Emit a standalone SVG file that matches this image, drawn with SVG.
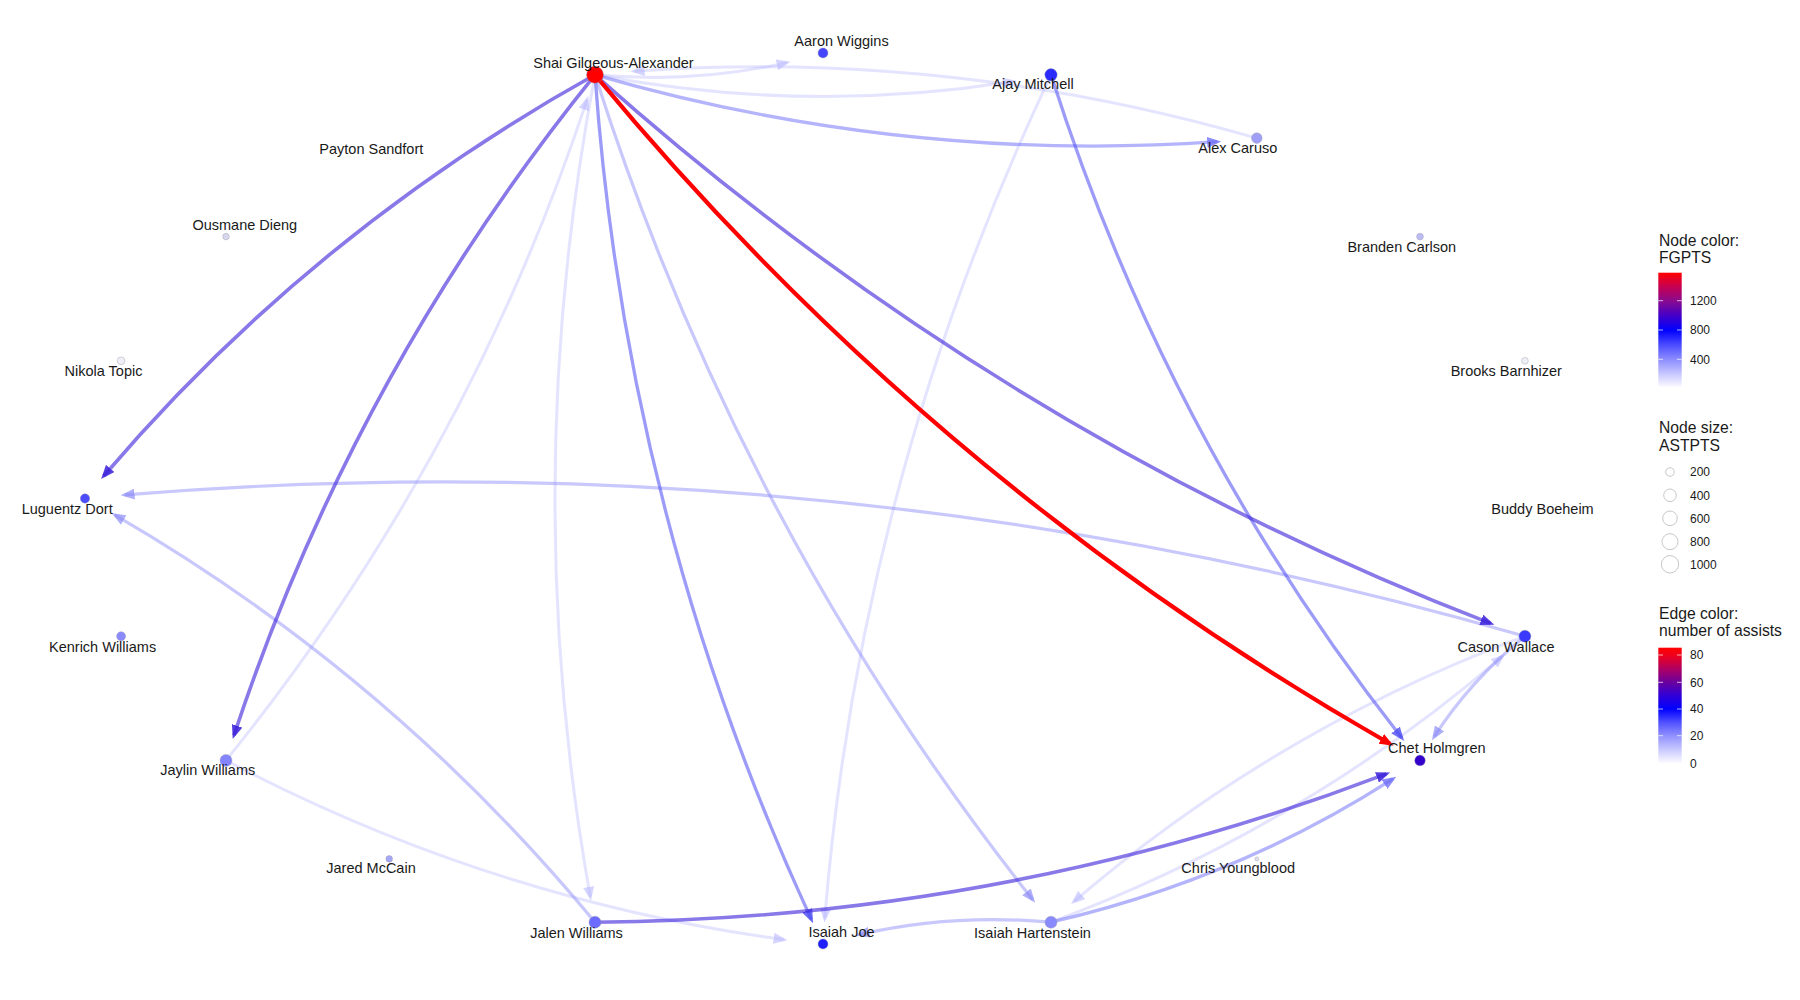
<svg xmlns="http://www.w3.org/2000/svg" width="1800" height="1000" viewBox="0 0 1800 1000">
<style>
  .lbl { font-family: "Liberation Sans", Arial, sans-serif; font-size: 14.5px; fill: #1a1a1a; text-anchor: middle; }
  .ttl { font-family: "Liberation Sans", Arial, sans-serif; font-size: 15.7px; fill: #1a1a1a; }
  .tck { font-family: "Liberation Sans", Arial, sans-serif; font-size: 12px; fill: #1a1a1a; }
  .e { fill: none; stroke-linecap: butt; }
  .eA { stroke: #ff0000; stroke-width: 4.2; marker-end: url(#mA); }
  .eB { stroke: #391ed9; stroke-opacity: 0.6; stroke-width: 3.6; marker-end: url(#mB); }
  .eC { stroke: #4b4bf2; stroke-opacity: 0.55; stroke-width: 3.3; marker-end: url(#mC); }
  .eD { stroke: #6969f9; stroke-opacity: 0.5; stroke-width: 3.3; marker-end: url(#mD); }
  .eE { stroke: #8585f8; stroke-opacity: 0.45; stroke-width: 3.2; marker-end: url(#mE); }
  .eF { stroke: #b2b2ff; stroke-opacity: 0.35; stroke-width: 3; marker-end: url(#mF); }
  .nd { stroke: #9a9aa8; stroke-opacity: 0.45; stroke-width: 0.9; }
  .szl { fill: none; stroke: #c8c8c8; stroke-width: 1; }
  .btk { stroke: #ffffff; stroke-opacity: 0.7; stroke-width: 1; }
</style>
<defs>
  <marker id="mA" viewBox="0 0 14 11" refX="10" refY="5.5" markerWidth="14" markerHeight="11" markerUnits="userSpaceOnUse" orient="auto"><path d="M0,0 L14,5.5 L0,11 z" fill="#ff0000"/></marker>
  <marker id="mB" viewBox="0 0 14 11" refX="10" refY="5.5" markerWidth="14" markerHeight="11" markerUnits="userSpaceOnUse" orient="auto"><path d="M0,0 L14,5.5 L0,11 z" fill="#391ed9" fill-opacity="0.85"/></marker>
  <marker id="mC" viewBox="0 0 14 11" refX="10" refY="5.5" markerWidth="14" markerHeight="11" markerUnits="userSpaceOnUse" orient="auto"><path d="M0,0 L14,5.5 L0,11 z" fill="#4b4bf2" fill-opacity="0.8"/></marker>
  <marker id="mD" viewBox="0 0 14 11" refX="10" refY="5.5" markerWidth="14" markerHeight="11" markerUnits="userSpaceOnUse" orient="auto"><path d="M0,0 L14,5.5 L0,11 z" fill="#6969f9" fill-opacity="0.75"/></marker>
  <marker id="mE" viewBox="0 0 14 11" refX="10" refY="5.5" markerWidth="14" markerHeight="11" markerUnits="userSpaceOnUse" orient="auto"><path d="M0,0 L14,5.5 L0,11 z" fill="#8585f8" fill-opacity="0.65"/></marker>
  <marker id="mF" viewBox="0 0 14 11" refX="10" refY="5.5" markerWidth="14" markerHeight="11" markerUnits="userSpaceOnUse" orient="auto"><path d="M0,0 L14,5.5 L0,11 z" fill="#b2b2ff" fill-opacity="0.55"/></marker>
  <linearGradient id="gNode" x1="0" y1="0" x2="0" y2="1">
    <stop offset="0" stop-color="#ff0000"/>
    <stop offset="0.12" stop-color="#c80050"/>
    <stop offset="0.246" stop-color="#8a0a8e"/>
    <stop offset="0.375" stop-color="#4400c8"/>
    <stop offset="0.503" stop-color="#0000ff"/>
    <stop offset="0.63" stop-color="#4a4aff"/>
    <stop offset="0.76" stop-color="#8c8cff"/>
    <stop offset="0.88" stop-color="#c4c4ff"/>
    <stop offset="1" stop-color="#fafaff"/>
  </linearGradient>
  <linearGradient id="gEdge" x1="0" y1="0" x2="0" y2="1">
    <stop offset="0" stop-color="#ff0000"/>
    <stop offset="0.063" stop-color="#f0001a"/>
    <stop offset="0.18" stop-color="#b00060"/>
    <stop offset="0.299" stop-color="#6a009e"/>
    <stop offset="0.415" stop-color="#3000d8"/>
    <stop offset="0.53" stop-color="#0000ff"/>
    <stop offset="0.645" stop-color="#5050ff"/>
    <stop offset="0.761" stop-color="#9090ff"/>
    <stop offset="0.88" stop-color="#c8c8ff"/>
    <stop offset="1" stop-color="#fcfcff"/>
  </linearGradient>
</defs>
<rect width="1800" height="1000" fill="#ffffff"/>

<g id="edges">
  <path class="e eF" d="M595,74.8 Q517.3,487.7 590.3,896.8"/>
  <path class="e eF" d="M595,74.8 Q805.8,114.5 1012.7,81.5"/>
  <path class="e eF" d="M1256.8,138.1 Q949,49.2 634.6,71.2"/>
  <path class="e eF" d="M595,74.8 Q694.2,83.8 786.6,62.6"/>
  <path class="e eF" d="M226,760.4 Q467.9,461 587,99.9"/>
  <path class="e eF" d="M1051,74.8 Q860,478.2 824.8,918.4"/>
  <path class="e eF" d="M226,760.4 Q491.5,900 783.6,939.6"/>
  <path class="e eF" d="M1524.9,636.2 Q1273.7,730 1074.1,901.5"/>
  <path class="e eF" d="M1051,922.2 Q1302.2,828.4 1501.8,656.9"/>
  <path class="e eE" d="M1524.9,636.2 Q1469.9,681 1434.1,736.8"/>
  <path class="e eE" d="M1524.9,636.2 Q835.1,437 124.6,494.9"/>
  <path class="e eE" d="M595,922.2 Q389.5,674.1 115,515.1"/>
  <path class="e eE" d="M595,74.8 Q739.5,529.4 1032.7,899.6"/>
  <path class="e eE" d="M1051,922.2 Q951.8,913.2 859.3,934.5"/>
  <path class="e eD" d="M595,74.8 Q902.8,163.7 1217.2,141.7"/>
  <path class="e eD" d="M1051,922.2 Q1236.7,879.2 1392.9,778.9"/>
  <path class="e eC" d="M595,74.8 Q626.5,519.3 811.4,919.5"/>
  <path class="e eC" d="M1051,74.8 Q1167.3,440.3 1401.7,737.8"/>
  <path class="e eB" d="M595,74.8 Q995,432 1490.6,623.4"/>
  <path class="e eB" d="M595,74.8 Q311.2,232.6 103.7,476"/>
  <path class="e eB" d="M595,74.8 Q353.1,374.2 234,735.3"/>
  <path class="e eB" d="M595,922.2 Q1006.5,919 1386.3,773.9"/>
  <path class="e eA" d="M595,74.8 Q933.4,483.5 1390,743.8"/>
</g>

<g id="node-aaron-wiggins"><circle class="nd" cx="823" cy="53" r="5" fill="#4545ff"/><text class="lbl" x="841.5" y="46">Aaron Wiggins</text></g>
<g id="node-ajay-mitchell"><circle class="nd" cx="1051" cy="74.8" r="6.2" fill="#2b2bff"/><text class="lbl" x="1033" y="89.3">Ajay Mitchell</text></g>
<g id="node-alex-caruso"><circle class="nd" cx="1256.8" cy="138.1" r="5.3" fill="#9f9ff7"/><text class="lbl" x="1237.8" y="153.3">Alex Caruso</text></g>
<g id="node-branden-carlson"><circle class="nd" cx="1420" cy="236.6" r="3.4" fill="#bcbcf4"/><text class="lbl" x="1401.8" y="251.7">Branden Carlson</text></g>
<g id="node-brooks-barnhizer"><circle class="nd" cx="1524.9" cy="360.8" r="3.4" fill="#efeff7"/><text class="lbl" x="1506.3" y="376">Brooks Barnhizer</text></g>
<g id="node-buddy-boeheim"><text class="lbl" x="1542.5" y="514">Buddy Boeheim</text></g>
<g id="node-cason-wallace"><circle class="nd" cx="1524.9" cy="636.2" r="6" fill="#3a3aff"/><text class="lbl" x="1506" y="651.7">Cason Wallace</text></g>
<g id="node-chet-holmgren"><circle class="nd" cx="1420" cy="760.4" r="5.3" fill="#3300cc"/><text class="lbl" x="1436.8" y="753.3">Chet Holmgren</text></g>
<g id="node-chris-youngblood"><circle class="nd" cx="1256.8" cy="858.9" r="2" fill="#dedeea"/><text class="lbl" x="1238.2" y="873.3">Chris Youngblood</text></g>
<g id="node-isaiah-hartenstein"><circle class="nd" cx="1051" cy="922.2" r="6" fill="#8a8aff"/><text class="lbl" x="1032.5" y="937.7">Isaiah Hartenstein</text></g>
<g id="node-isaiah-joe"><circle class="nd" cx="823" cy="944" r="5" fill="#2020ff"/><text class="lbl" x="841.5" y="937">Isaiah Joe</text></g>
<g id="node-jalen-williams"><circle class="nd" cx="595" cy="922.2" r="6" fill="#6b6bff"/><text class="lbl" x="576.5" y="937.7">Jalen Williams</text></g>
<g id="node-jared-mccain"><circle class="nd" cx="389.2" cy="858.9" r="3.3" fill="#a6a6f8"/><text class="lbl" x="371" y="873.3">Jared McCain</text></g>
<g id="node-jaylin-williams"><circle class="nd" cx="226" cy="760.4" r="6" fill="#8484ff"/><text class="lbl" x="207.7" y="775">Jaylin Williams</text></g>
<g id="node-kenrich-williams"><circle class="nd" cx="121.1" cy="636.2" r="4.5" fill="#8a8afc"/><text class="lbl" x="102.6" y="651.7">Kenrich Williams</text></g>
<g id="node-luguentz-dort"><circle class="nd" cx="85" cy="498.5" r="4.7" fill="#4d4dff"/><text class="lbl" x="67.2" y="514">Luguentz Dort</text></g>
<g id="node-nikola-topic"><circle class="nd" cx="121.1" cy="360.8" r="3.9" fill="#efeff8"/><text class="lbl" x="103.5" y="376">Nikola Topic</text></g>
<g id="node-ousmane-dieng"><circle class="nd" cx="226" cy="236.6" r="3.3" fill="#d6d6ee"/><text class="lbl" x="244.8" y="230">Ousmane Dieng</text></g>
<g id="node-payton-sandfort"><text class="lbl" x="371.3" y="154">Payton Sandfort</text></g>
<g id="node-shai-gilgeous-alexander"><circle class="nd" cx="595" cy="74.8" r="8.5" fill="#ff0000"/><text class="lbl" x="613.5" y="67.8">Shai Gilgeous-Alexander</text></g>

<g id="legend-node-color">
  <text class="ttl" x="1659" y="246">Node color:</text>
  <text class="ttl" x="1659" y="263.3">FGPTS</text>
  <rect x="1658.3" y="272.7" width="23.4" height="114" fill="url(#gNode)"/>
  <line class="btk" x1="1658.3" y1="300.7" x2="1663" y2="300.7"/><line class="btk" x1="1677" y1="300.7" x2="1681.7" y2="300.7"/>
  <line class="btk" x1="1658.3" y1="330" x2="1663" y2="330"/><line class="btk" x1="1677" y1="330" x2="1681.7" y2="330"/>
  <line class="btk" x1="1658.3" y1="359.3" x2="1663" y2="359.3"/><line class="btk" x1="1677" y1="359.3" x2="1681.7" y2="359.3"/>
  <text class="tck" x="1690" y="305">1200</text>
  <text class="tck" x="1690" y="334.3">800</text>
  <text class="tck" x="1690" y="363.6">400</text>
</g>

<g id="legend-node-size">
  <text class="ttl" x="1659" y="433.3">Node size:</text>
  <text class="ttl" x="1659" y="450.7">ASTPTS</text>
  <circle class="szl" cx="1670" cy="472" r="4.3"/>
  <circle class="szl" cx="1670" cy="495.3" r="6.3"/>
  <circle class="szl" cx="1670" cy="518.3" r="7.3"/>
  <circle class="szl" cx="1670" cy="541.7" r="8"/>
  <circle class="szl" cx="1670" cy="564.3" r="8.7"/>
  <text class="tck" x="1690" y="476.3">200</text>
  <text class="tck" x="1690" y="499.6">400</text>
  <text class="tck" x="1690" y="522.6">600</text>
  <text class="tck" x="1690" y="546">800</text>
  <text class="tck" x="1690" y="568.6">1000</text>
</g>

<g id="legend-edge-color">
  <text class="ttl" x="1659" y="619.3">Edge color:</text>
  <text class="ttl" x="1659" y="636">number of assists</text>
  <rect x="1658.3" y="647.7" width="23.4" height="115.6" fill="url(#gEdge)"/>
  <line class="btk" x1="1658.3" y1="655" x2="1663" y2="655"/><line class="btk" x1="1677" y1="655" x2="1681.7" y2="655"/>
  <line class="btk" x1="1658.3" y1="682.3" x2="1663" y2="682.3"/><line class="btk" x1="1677" y1="682.3" x2="1681.7" y2="682.3"/>
  <line class="btk" x1="1658.3" y1="709" x2="1663" y2="709"/><line class="btk" x1="1677" y1="709" x2="1681.7" y2="709"/>
  <line class="btk" x1="1658.3" y1="735.7" x2="1663" y2="735.7"/><line class="btk" x1="1677" y1="735.7" x2="1681.7" y2="735.7"/>
  <text class="tck" x="1690" y="659.3">80</text>
  <text class="tck" x="1690" y="686.6">60</text>
  <text class="tck" x="1690" y="713.3">40</text>
  <text class="tck" x="1690" y="740">20</text>
  <text class="tck" x="1690" y="767.6">0</text>
</g>
</svg>
